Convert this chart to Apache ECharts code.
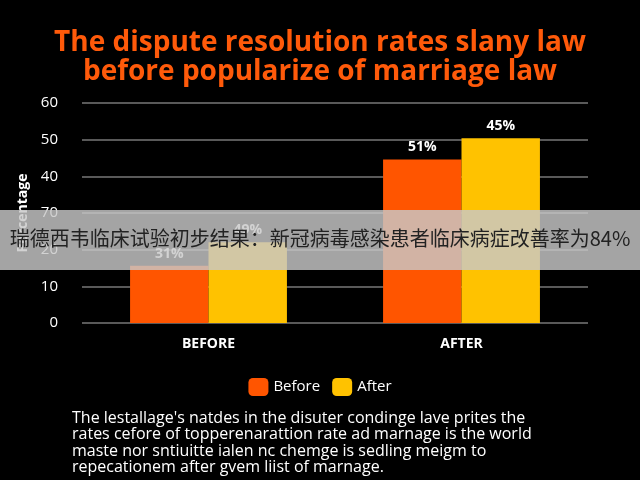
<!DOCTYPE html>
<html>
<head>
    <meta charset="UTF-8">
    <title>chart</title>
    <script src="https://cdn.jsdelivr.net/npm/echarts@6/dist/echarts.min.js"></script>
    <style>
        body, html { margin: 0; padding: 0; background: #000; }
        #main { width: 640px; height: 480px; }
    </style>
</head>
<body>
<div id="main"></div>
<script>
    var categories = ['BEFORE', 'AFTER'];
    var beforeValues = [15.6, 44.6];
    var afterValues = [22, 50.4];
    var beforeLabels = ['31%', '51%'];
    var afterLabels = ['49%', '45%'];
    var tickLabels = ['0', '10', '20', '70', '40', '50', '60'];
    var note = "The lestallage's natdes in the disuter condinge lave prites the\n" +
        "rates cefore of topperenarattion rate ad marnage is the world\n" +
        "maste nor sntiuitte ialen nc chemge is sedling meigm to\n" +
        "repecationem after gvem liist of marnage.";

    var chart = echarts.init(document.getElementById('main'), null, {renderer: 'canvas'});
    chart.setOption({
        backgroundColor: '#000',
        textStyle: {fontFamily: 'Open Sans'},
        title: {
            text: 'The dispute resolution rates slany law\nbefore popularize of marriage law',
            left: 'center', top: 24,
            textStyle: {color: '#ff5a0a', fontSize: 28, fontWeight: 'bold', lineHeight: 29, fontFamily: 'Open Sans'}
        },
        legend: {
            data: ['Before', 'After'], top: 373, left: 'center',
            itemWidth: 20, itemHeight: 18, itemGap: 12,
            textStyle: {color: '#fff', fontSize: 15}
        },
        grid: {left: 82, right: 52, top: 103, bottom: 157},
        xAxis: {
            type: 'category', data: categories,
            axisLine: {show: false}, axisTick: {show: false},
            axisLabel: {color: '#fff', fontWeight: 'bold', fontSize: 14, margin: 14}
        },
        yAxis: {
            type: 'value', min: 0, max: 60, interval: 10,
            name: 'Percentage', nameLocation: 'middle', nameGap: 44,
            nameTextStyle: {color: '#fff', fontSize: 14, fontWeight: 'bold'},
            axisLabel: {color: '#fff', fontSize: 15, margin: 24,
                formatter: function (v) { return tickLabels[Math.round(v / 10)]; }},
            splitLine: {lineStyle: {color: '#777', width: 1.5}}
        },
        series: [
            {name: 'Before', type: 'bar', data: beforeValues, barWidth: '31%', barGap: 0,
                itemStyle: {color: '#ff5500'},
                label: {show: true, position: 'top', color: '#fff', fontWeight: 'bold', fontSize: 14,
                    formatter: function (p) { return beforeLabels[p.dataIndex]; }}},
            {name: 'After', type: 'bar', data: afterValues, barWidth: '31%',
                itemStyle: {color: '#ffc200'},
                label: {show: true, position: 'top', color: '#fff', fontWeight: 'bold', fontSize: 14,
                    formatter: function (p) { return afterLabels[p.dataIndex]; }}}
        ],
        graphic: [
            {type: 'rect', left: 0, top: 210, z: 100,
                shape: {width: 640, height: 60},
                style: {fill: 'rgba(200,200,200,0.82)'}},
            {type: 'text', left: 'center', top: 228, z: 101,
                style: {text: '瑞德西韦临床试验初步结果：新冠病毒感染患者临床病症改善率为84%',
                    fill: '#222', fontSize: 20, fontFamily: 'Noto Sans CJK SC'}},
            {type: 'text', left: 72, top: 410, z: 101,
                style: {text: note, fill: '#fff', fontSize: 16, lineHeight: 16.5, fontFamily: 'Open Sans'}}
        ]
    });
</script>
</body>
</html>
